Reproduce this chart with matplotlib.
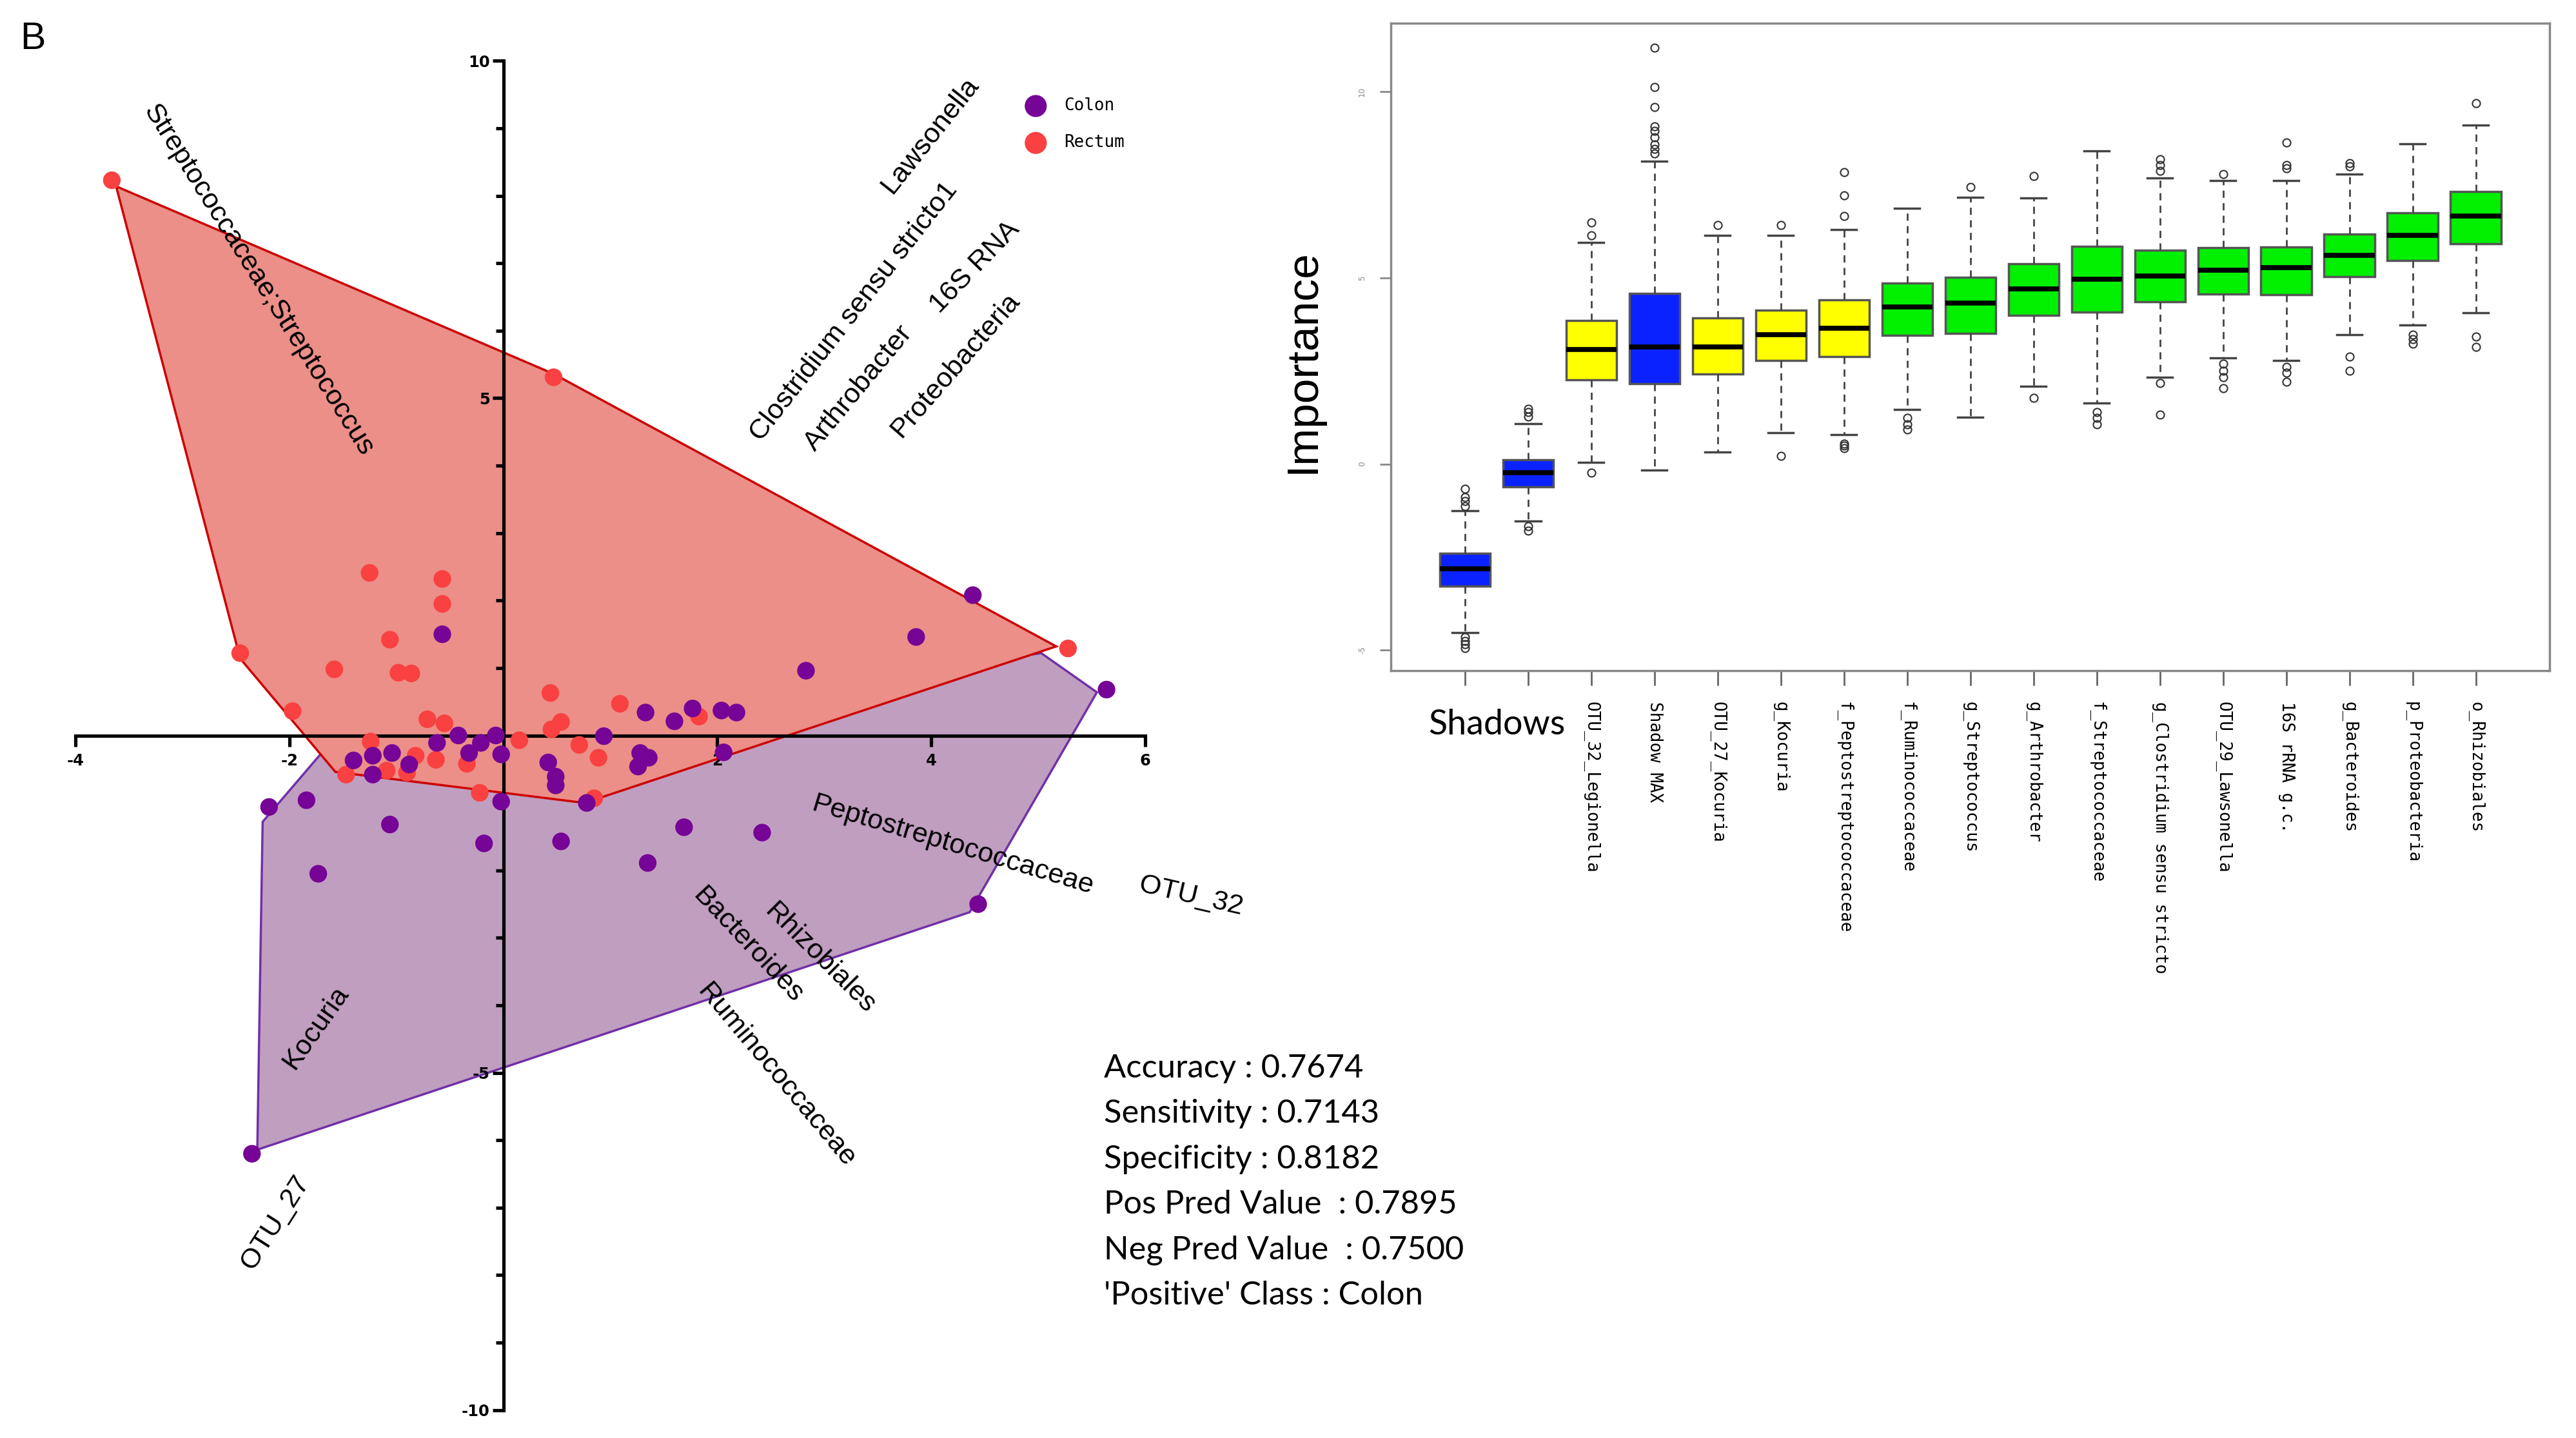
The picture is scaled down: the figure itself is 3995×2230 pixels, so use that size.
import matplotlib.pyplot as plt
from matplotlib.patches import Polygon

# ---------------- Daten: linke Grafik (Scores) ----------------
colon_x = [-0.57, 4.39, 3.86, 2.83, 5.64, 1.33, 1.60, 1.77, 2.04, 2.18, 0.94, 1.28, 1.36, 1.26,
           2.06, 0.42, 0.49, 0.49, -0.62, -0.42, -0.32, -0.21, -0.07, -0.02, -1.40, -1.22, -1.04,
           -1.22, -0.88, -0.02, 0.78, -2.19, -1.84, -1.06, -0.18, 0.54, 1.35, 1.69, 2.42, 4.44,
           -2.35, -1.73]
colon_y = [1.50, 2.08, 1.46, 0.96, 0.68, 0.34, 0.21, 0.40, 0.37, 0.34, -0.01, -0.26, -0.33, -0.46,
           -0.25, -0.40, -0.61, -0.74, -0.11, 0.00, -0.26, -0.11, 0.00, -0.28, -0.37, -0.30, -0.26,
           -0.58, -0.43, -0.98, -1.00, -1.06, -0.96, -1.32, -1.60, -1.57, -1.89, -1.36, -1.44, -2.50,
           -6.20, -2.05]
rectum_x = [-3.66, 0.47, 5.28, -1.25, -0.57, -0.57, -1.06, -2.46, -1.58, -0.98, -0.86, -1.97, -0.71,
            -0.55, 0.44, 1.09, 0.54, 0.45, 0.15, 0.71, 0.89, -1.24, -1.47, -0.22, 0.85, -0.82, -0.63,
            -0.34, -0.90, -1.09, 1.83]
rectum_y = [8.23, 5.31, 1.29, 2.41, 2.32, 1.95, 1.42, 1.22, 0.98, 0.93, 0.92, 0.36, 0.24,
            0.18, 0.63, 0.47, 0.20, 0.09, -0.07, -0.14, -0.33, -0.09, -0.58, -0.85, -0.93, -0.30, -0.36,
            -0.42, -0.55, -0.52, 0.28]

# Umrisse der Gruppen
colon_hull_x = [-2.30, -2.25, -1.71, 5.03, 5.55, 4.36]
colon_hull_y = [-6.14, -1.28, -0.28, 1.22, 0.64, -2.62]
rectum_hull_x = [-3.62, 0.47, 5.17, 0.76, -1.57, -2.46]
rectum_hull_y = [8.14, 5.36, 1.32, -1.00, -0.54, 1.14]

# Beschriftung der Variablen
loading_names = ["Streptococcaceae;Streptococcus", "Lawsonella", "Clostridium sensu stricto1",
                 "Arthrobacter", "16S RNA", "Proteobacteria", "Peptostreptococcaceae", "OTU_32",
                 "Rhizobiales", "Bacteroides", "Ruminococcaceae", "Kocuria", "OTU_27"]
loading_x = [-2.29, 3.99, 3.28, 3.32, 4.41, 4.23, 4.20, 6.43, 2.96, 2.29, 2.55, -1.75, -2.13]
loading_y = [6.75, 8.89, 6.28, 5.15, 6.94, 5.49, -1.63, -2.38, -3.31, -3.11, -5.04, -4.33, -7.22]
loading_angle = [-57.8, 51.5, 52.0, 50.4, 46.0, 49.0, -16.7, -12.9, -45.0, -46.8, -50.0, 54.8, 57.5]

metric_names = ["Accuracy", "Sensitivity", "Specificity", "Pos Pred Value ", "Neg Pred Value ",
                "'Positive' Class"]
metric_values = ["0.7674", "0.7143", "0.8182", "0.7895", "0.7500", "Colon"]

# ---------------- Daten: rechte Grafik (Boruta) ----------------
features = ["shadowMin", "shadowMean", "OTU_32_Legionella", "Shadow MAX", "OTU_27_Kocuria",
            "g_Kocuria", "f_Peptostreptococcaceae", "f_Ruminococcaceae", "g_Streptococcus",
            "g_Arthrobacter", "f_Streptococcaceae", "g_Clostridium sensu stricto",
            "OTU_29_Lawsonella", "16S rRNA g.c.", "g_Bacteroides", "p_Proteobacteria",
            "o_Rhizobiales"]
status = ["shadow", "shadow", "tentative", "shadow", "tentative", "tentative", "tentative",
          "confirmed", "confirmed", "confirmed", "confirmed", "confirmed", "confirmed",
          "confirmed", "confirmed", "confirmed", "confirmed"]
q1 = [-3.28, -0.61, 2.27, 2.15, 2.42, 2.79, 2.88, 3.45, 3.51, 3.99, 4.09, 4.36, 4.56, 4.55, 5.04, 5.46, 5.91]
med = [-2.82, -0.24, 3.08, 3.14, 3.14, 3.48, 3.64, 4.22, 4.33, 4.71, 4.96, 5.06, 5.21, 5.27, 5.61, 6.15, 6.66]
q3 = [-2.40, 0.12, 3.86, 4.58, 3.92, 4.13, 4.41, 4.87, 5.02, 5.38, 5.85, 5.75, 5.81, 5.84, 6.18, 6.75, 7.33]
whislo = [-4.53, -1.53, 0.04, -0.16, 0.33, 0.84, 0.79, 1.46, 1.26, 2.09, 1.63, 2.33, 2.85, 2.78, 3.47, 3.73, 4.07]
whishi = [-1.26, 1.09, 5.95, 8.13, 6.14, 6.14, 6.30, 6.87, 7.16, 7.14, 8.42, 7.69, 7.61, 7.61, 7.79, 8.60, 9.11]
fliers = [[-0.67, -0.89, -1.0, -1.13, -4.65, -4.75, -4.85, -4.95],
          [1.48, 1.40, 1.27, -1.67, -1.80],
          [6.49, 6.15, -0.24],
          [11.19, 10.13, 9.6, 9.07, 8.95, 8.77, 8.58, 8.46, 8.34],
          [6.42],
          [6.42, 0.21],
          [7.85, 7.22, 6.67, 0.55, 0.49, 0.42],
          [1.24, 1.06, 0.93],
          [7.45],
          [7.73, 1.78],
          [1.40, 1.24, 1.06],
          [8.19, 8.03, 7.88, 2.17, 1.32],
          [7.79, 2.69, 2.51, 2.33, 2.03],
          [8.64, 8.03, 7.95, 2.61, 2.45, 2.21],
          [8.09, 7.99, 2.88, 2.51],
          [3.48, 3.36, 3.24],
          [9.70, 3.42, 3.14]]

status_colors = {"shadow": "#0a22ff", "tentative": "#ffff00", "confirmed": "#00f000"}

fig = plt.figure(figsize=(15.98, 8.92), dpi=250)

# ---------------- linke Grafik ----------------
ax = fig.add_axes([0.0293, 0.0194, 0.4152, 0.9383])
ax.set_xlim(-4, 6)
ax.set_ylim(-10, 10)

ax.add_patch(Polygon(list(zip(colon_hull_x, colon_hull_y)), closed=True,
                     facecolor="#c09ec0", edgecolor="#7030a8", lw=1, zorder=1))
ax.add_patch(Polygon(list(zip(rectum_hull_x, rectum_hull_y)), closed=True,
                     facecolor="#eb8f88", edgecolor="#cc0000", lw=1, zorder=1.1))

ax.scatter(rectum_x, rectum_y, s=62, color="#f94141", edgecolors="none", zorder=3, label="Rectum")
ax.scatter(colon_x, colon_y, s=62, color="#760496", edgecolors="none", zorder=3.1, label="Colon")

for name, x, y, a in zip(loading_names, loading_x, loading_y, loading_angle):
    ax.text(x, y, name, rotation=a, rotation_mode="anchor", ha="center", va="center",
            fontsize=12.5, family="Liberation Sans", clip_on=False, zorder=4)

# Achsen durch den Nullpunkt
for side in ["top", "right"]:
    ax.spines[side].set_visible(False)
ax.spines["left"].set_position(("data", 0))
ax.spines["bottom"].set_position(("data", 0))
ax.spines["left"].set_linewidth(1.5)
ax.spines["bottom"].set_linewidth(1.5)
ax.set_xticks([-4, -2, 2, 4, 6])
ax.set_xticklabels(["-4", "-2", "2", "4", "6"])
ax.set_yticks([-10, -5, 5, 10])
ax.set_yticklabels(["-10", "-5", "5", "10"])
ax.set_yticks(range(-10, 11), minor=True)
ax.tick_params(axis="x", direction="out", length=5, width=1.5, labelsize=7, pad=3)
ax.tick_params(axis="y", which="major", direction="out", length=5, width=1.5, labelsize=7, pad=1)
ax.tick_params(axis="y", which="minor", direction="out", length=3.5, width=1.5)
for lab in ax.get_xticklabels() + ax.get_yticklabels():
    lab.set_fontweight("bold")

handles, labels = ax.get_legend_handles_labels()
ax.legend(handles[::-1], labels[::-1], loc="upper left", bbox_to_anchor=(0.868, 0.984),
          frameon=False, markerscale=1.25, handletextpad=0.7, labelspacing=1.2,
          prop={"family": "DejaVu Sans Mono", "size": 7.5})

fig.text(0.0128, 0.973, "B", fontsize=17, family="Liberation Sans", va="center", ha="center")

# Kennzahlen
for i, (n, v) in enumerate(zip(metric_names, metric_values)):
    fig.text(0.4285, 0.257 - i * 0.0316, f"{n} : {v}", fontsize=14.6, family="Lato",
             va="center", ha="left")

# ---------------- rechte Grafik ----------------
bx = fig.add_axes([0.540, 0.5337, 0.4498, 0.4503])
stats = []
for i in range(len(features)):
    stats.append({"label": features[i], "q1": q1[i], "med": med[i], "q3": q3[i],
                  "whislo": whislo[i], "whishi": whishi[i], "fliers": fliers[i]})
pos = list(range(1, len(features) + 1))
parts = bx.bxp(stats, positions=pos, widths=0.8, patch_artist=True,
               boxprops=dict(edgecolor="#555555", linewidth=1),
               medianprops=dict(color="black", linewidth=2.2),
               whiskerprops=dict(color="#444444", linestyle=(0, (4, 3)), linewidth=0.8),
               capprops=dict(color="#444444", linewidth=1),
               flierprops=dict(marker="o", markerfacecolor="none", markeredgecolor="#333333",
                               markersize=3.5, markeredgewidth=0.6))
for box, st in zip(parts["boxes"], status):
    box.set_facecolor(status_colors[st])

bx.set_xlim(-0.17, 18.17)
bx.set_ylim(-5.55, 11.85)
for side in bx.spines:
    bx.spines[side].set_color("#888888")
    bx.spines[side].set_linewidth(1)
bx.set_yticks([-5, 0, 5, 10])
bx.set_yticklabels(["-5", "0", "5", "10"], rotation=90, va="center", fontsize=3.5, color="#888888")
bx.tick_params(axis="y", length=5, color="#888888", pad=6)
bx.set_xticks(pos)
bx.set_xticklabels(["", ""] + features[2:], rotation=-90, va="top", ha="center",
                   fontsize=7.5, family="DejaVu Sans Mono")
bx.tick_params(axis="x", length=6.5, color="#666666", pad=7.5)
bx.text(1.5, -7.0, "Shadows", fontsize=15.5, family="Lato", ha="center", va="center")

fig.text(0.5057, 0.749, "Importance", rotation=90, fontsize=20, family="Liberation Sans",
         ha="center", va="center")

plt.savefig("out.png", dpi=250)
